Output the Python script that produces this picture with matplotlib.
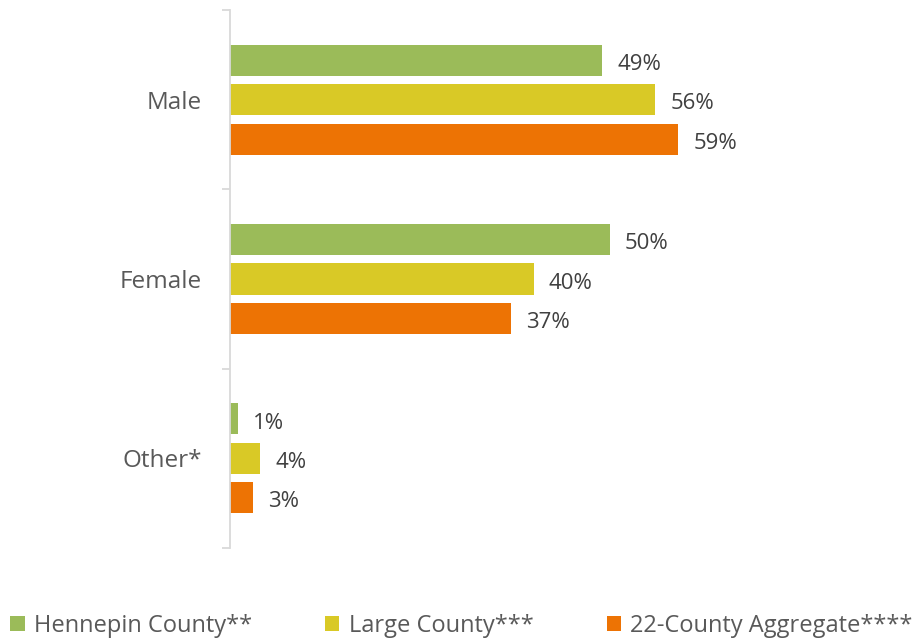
import numpy as np
import matplotlib.pyplot as plt

plt.rcParams['font.family'] = ['Open Sans', 'DejaVu Sans']

# データ
categories = ['Male', 'Female', 'Other*']
series_names = ['Hennepin County**', 'Large County***', '22-County Aggregate****']
hennepin = [49, 50, 1]
large = [56, 40, 4]
aggregate = [59, 37, 3]

colors = ['#9BBB59', '#D9C926', '#ED7304']
text_color = '#595959'

fig = plt.figure(figsize=(9.17, 6.43), dpi=100)
ax = fig.add_axes([230 / 917, 95 / 643, 687 / 917, 538 / 643])

y = np.arange(len(categories))
offset = 0.22
height = 0.173
for i, (vals, name, c) in enumerate(zip([hennepin, large, aggregate], series_names, colors)):
    pos = y + (i - 1) * offset
    bars = ax.barh(pos, vals, height=height, color=c, label=name)
    for b, v in zip(bars, vals):
        ax.annotate(f'{v}%', (b.get_width(), b.get_y() + b.get_height() / 2),
                    xytext=(11, -3), textcoords='offset points',
                    ha='left', va='center', fontsize=16, color='#404040')

ax.set_xlim(0, 90.5)
ax.set_ylim(2.5, -0.5)

# 軸の体裁
for s in ['top', 'right', 'bottom']:
    ax.spines[s].set_visible(False)
ax.spines['left'].set_color('#d9d9d9')
ax.spines['left'].set_linewidth(1.3)
ax.set_xticks([])
ax.set_yticks([-0.5, 0.5, 1.5, 2.5])
ax.set_yticklabels([])
ax.tick_params(axis='y', which='major', length=6, color='#d9d9d9', width=1.3)
ax.set_yticks(y, minor=True)
ax.set_yticklabels(categories, minor=True)
ax.tick_params(axis='y', which='minor', length=0, pad=20, labelsize=17.5,
               labelcolor=text_color)

fig.legend(loc='lower left', bbox_to_anchor=(8 / 917, 0.004), ncol=3, frameon=False,
           fontsize=17, labelcolor=text_color, handlelength=0.6, handleheight=0.6,
           handletextpad=0.4, columnspacing=3.1, borderpad=0.1, borderaxespad=0)

fig.savefig('out.png', dpi=100)
